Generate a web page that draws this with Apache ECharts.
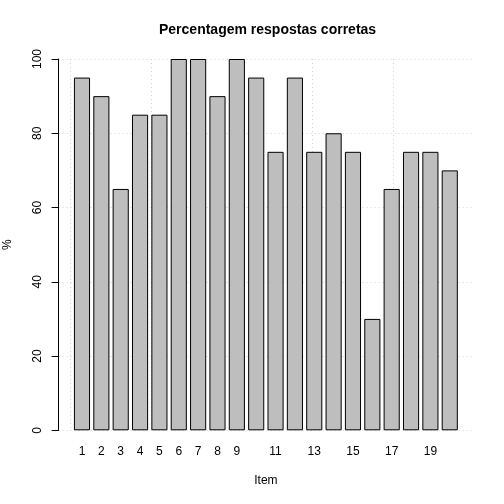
<!DOCTYPE html>
<html><head><meta charset="utf-8">
<script src="https://cdn.jsdelivr.net/npm/echarts@6/dist/echarts.min.js"></script>
<style>html,body{margin:0;padding:0;background:#fff}#c{width:504px;height:504px}</style>
</head><body><div id="c"></div>
<script>
const categories = ['1','2','3','4','5','6','7','8','9','10','11','12','13','14','15','16','17','18','19','20'];
const values = [95, 90, 65, 85, 85, 100, 100, 90, 100, 95, 75, 95, 75, 80, 75, 30, 65, 75, 75, 70];
const yTicks = [0, 20, 40, 60, 80, 100];
const titleText = 'Percentagem respostas corretas';
const xName = 'Item';
const yName = '%';

const FONT = 'Liberation Sans, Arial, Helvetica, sans-serif';
const gTop = 59, gBottom = 504 - 430.3;
const chart = echarts.init(document.getElementById('c'), null, {renderer: 'canvas'});
const dotted = {show: true, lineStyle: {color: '#d3d3d3', type: [1, 3], width: 1}};
chart.setOption({
  animation: false,
  backgroundColor: '#fff',
  title: {text: titleText, left: 159, top: 23, padding: 0,
    textStyle: {fontFamily: FONT, fontSize: 14, fontWeight: 'bold', color: '#000'}},
  grid: [
    {left: 58.6, right: 504 - 473.2, top: gTop, bottom: gBottom, containLabel: false, outerBoundsMode: 'none'},
    {left: 70.7 + 0.1 * 16.13, right: 504 - (70.7 + 24.1 * 16.13), top: gTop, bottom: gBottom, containLabel: false, outerBoundsMode: 'none'},
    {left: 70.7, right: 504 - (70.7 + 20 * 16.13), top: gTop, bottom: gBottom, containLabel: false, outerBoundsMode: 'none'}
  ],
  xAxis: [
    {gridIndex: 0, type: 'value', min: 0, max: 1, axisLine: {show: false}, axisTick: {show: false},
     axisLabel: {show: false}, splitLine: {show: false},
     name: xName, nameLocation: 'middle', nameGap: 44,
     nameTextStyle: {fontFamily: FONT, fontSize: 12, color: '#000'}},
    {gridIndex: 1, type: 'category', data: categories, boundaryGap: true,
     axisLine: {show: false}, axisTick: {show: false}, splitLine: {show: false},
     axisLabel: {interval: (i) => i < 9 || i % 2 === 0, margin: 15, fontFamily: FONT, fontSize: 12, color: '#000'}},
    {gridIndex: 2, type: 'value', min: 0, max: 20, interval: 5, axisLine: {show: false}, axisTick: {show: false},
     axisLabel: {show: false}, splitLine: dotted}
  ],
  yAxis: [
    {gridIndex: 0, type: 'value', min: 0, max: 100, interval: 20,
     axisLine: {show: true, lineStyle: {color: '#000', width: 1}},
     axisTick: {show: true, length: 7, lineStyle: {color: '#000'}},
     axisLabel: {rotate: 90, margin: 15, fontFamily: FONT, fontSize: 12, color: '#000',
       formatter: (v) => yTicks.includes(v) ? String(v) : ''},
     splitLine: dotted,
     name: yName, nameLocation: 'middle', nameGap: 45, nameRotate: 90,
     nameTextStyle: {fontFamily: FONT, fontSize: 12, color: '#000'}},
    {gridIndex: 1, type: 'value', min: 0, max: 100, show: false, splitLine: {show: false}},
    {gridIndex: 2, type: 'value', min: 0, max: 100, show: false, splitLine: {show: false}}
  ],
  series: [{
    type: 'bar', xAxisIndex: 1, yAxisIndex: 1, data: values, barWidth: '83.33%',
    itemStyle: {color: '#bebebe', borderColor: '#000', borderWidth: 1}, z: 3
  }]
});
</script></body></html>
